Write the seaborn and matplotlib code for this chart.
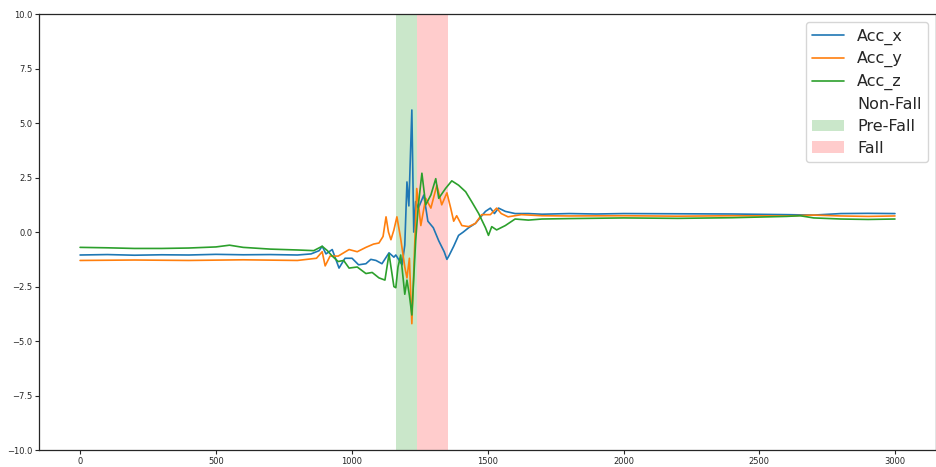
import numpy as np
import pandas as pd
import matplotlib
matplotlib.use('Agg')
import matplotlib.pyplot as plt
import seaborn as sns

# Valores (amostras do sinal de aceleração)
t_x = [0, 100, 200, 300, 400, 500, 600, 700, 800, 850, 880, 891, 905, 928, 953, 975,
       1001, 1025, 1052, 1070, 1089, 1111, 1137, 1155, 1162, 1185, 1195, 1203, 1210,
       1221, 1228, 1235, 1245, 1265, 1280, 1300, 1320, 1340, 1350, 1357, 1375, 1393,
       1410, 1430, 1455, 1475, 1492, 1510, 1525, 1540, 1565, 1601, 1650, 1700, 1800,
       1900, 2000, 2200, 2400, 2600, 2700, 2800, 2900, 2999]
acc_x = [-1.05, -1.03, -1.06, -1.04, -1.05, -1.02, -1.04, -1.03, -1.05, -1.0, -0.85,
         -0.65, -1.0, -0.8, -1.65, -1.2, -1.2, -1.5, -1.45, -1.25, -1.3, -1.45, -0.95,
         -1.15, -1.05, -1.5, -0.6, 2.3, 1.2, 5.6, 0.0, 1.4, 1.1, 1.7, 0.5, 0.2, -0.4,
         -0.9, -1.25, -1.1, -0.65, -0.15, 0.0, 0.2, 0.4, 0.7, 0.95, 1.1, 0.85, 1.1, 0.95,
         0.85, 0.85, 0.82, 0.85, 0.83, 0.85, 0.84, 0.83, 0.8, 0.78, 0.85, 0.86, 0.85]

t_y = [0, 200, 400, 600, 800, 870, 891, 902, 920, 950, 990, 1020, 1052, 1080, 1100,
       1115, 1126, 1135, 1144, 1155, 1166, 1180, 1195, 1203, 1212, 1221, 1228, 1239,
       1254, 1272, 1291, 1313, 1331, 1350, 1364, 1375, 1386, 1405, 1430, 1455, 1478,
       1510, 1533, 1550, 1575, 1624, 1700, 1800, 2000, 2200, 2400, 2600, 2700, 2800,
       2900, 2999]
acc_y = [-1.3, -1.28, -1.3, -1.27, -1.3, -1.2, -0.9, -1.55, -1.1, -1.1, -0.8, -0.9,
         -0.7, -0.55, -0.5, -0.2, 0.7, 0.0, -0.35, 0.1, 0.7, -0.3, -1.6, -2.1, -1.2,
         -4.2, -1.8, 2.0, 0.3, 1.55, 1.1, 2.15, 1.25, 1.8, 1.1, 0.5, 0.75, 0.3, 0.25,
         0.4, 0.8, 0.8, 1.1, 0.85, 0.7, 0.8, 0.75, 0.74, 0.75, 0.73, 0.75, 0.74, 0.78,
         0.74, 0.72, 0.74]

t_z = [0, 100, 200, 300, 400, 500, 550, 600, 700, 800, 860, 891, 910, 928, 950, 970,
       990, 1020, 1052, 1075, 1100, 1122, 1137, 1155, 1162, 1170, 1180, 1195, 1203,
       1212, 1221, 1235, 1245, 1258, 1272, 1291, 1309, 1320, 1345, 1368, 1393, 1419,
       1441, 1467, 1492, 1503, 1515, 1533, 1565, 1601, 1650, 1700, 1800, 2000, 2200,
       2400, 2600, 2650, 2700, 2800, 2900, 2999]
acc_z = [-0.7, -0.72, -0.75, -0.75, -0.73, -0.68, -0.6, -0.7, -0.78, -0.82, -0.85,
         -0.65, -0.85, -1.1, -1.35, -1.3, -1.65, -1.6, -1.9, -1.85, -2.1, -2.2, -1.0,
         -2.5, -2.55, -1.6, -1.05, -2.85, -2.2, -2.9, -3.8, -0.4, 1.25, 2.7, 1.25, 1.7,
         2.45, 1.55, 2.0, 2.35, 2.15, 1.85, 1.4, 0.85, 0.2, -0.15, 0.25, 0.1, 0.3, 0.6,
         0.55, 0.6, 0.62, 0.65, 0.63, 0.66, 0.72, 0.75, 0.65, 0.6, 0.58, 0.6]

# Intervalos das fases da queda
non_fall = (0, 1162)
pre_fall = (1162, 1239)
fall = (1239, 1353)

sns.set_style('ticks')
plt.rcParams['font.family'] = ['DejaVu Sans']

fig = plt.figure(figsize=(9.36, 4.67), dpi=100)
ax = fig.add_axes([0.042, 0.036, 0.958, 0.934])

cores = sns.color_palette('tab10')
series = [('Acc_x', t_x, acc_x), ('Acc_y', t_y, acc_y), ('Acc_z', t_z, acc_z)]
for i, (nome, t, v) in enumerate(series):
    df = pd.DataFrame({'t': t, 'v': v})
    sns.lineplot(data=df, x='t', y='v', ax=ax, color=cores[i], lw=1.2, label=nome)

ax.axvspan(*non_fall, color='white', alpha=0.0, label='Non-Fall', zorder=0)
ax.axvspan(*pre_fall, color=cores[2], alpha=0.25, lw=0, label='Pre-Fall', zorder=0)
ax.axvspan(*fall, color='red', alpha=0.2, lw=0, label='Fall', zorder=0)

ax.set_xlim(-150, 3150)
ax.set_ylim(-10, 10)
ax.set_xticks(np.arange(0, 3001, 500))
ax.set_yticks(np.arange(-10, 10.1, 2.5))
ax.set_xlabel('')
ax.set_ylabel('')
ax.tick_params(labelsize=6, length=3, pad=2)
for s in ax.spines.values():
    s.set_linewidth(0.9)

ax.legend(loc='upper right', fontsize=11.5, labelspacing=0.42)

fig.savefig('out.png', dpi=100)
